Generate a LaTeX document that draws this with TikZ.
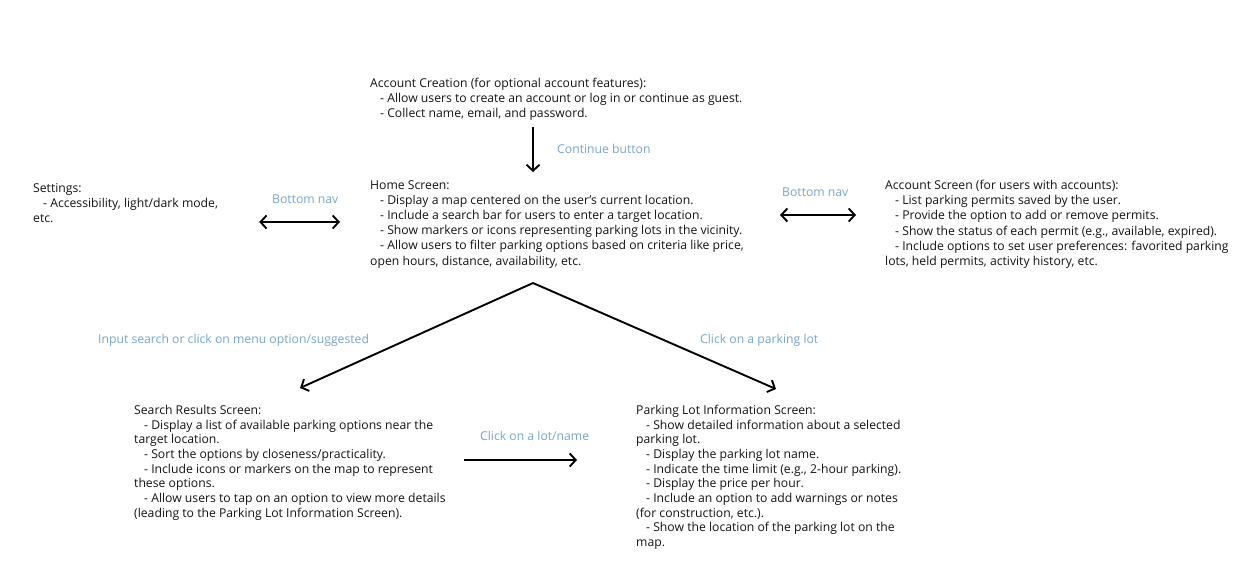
\documentclass[tikz,border=0pt]{standalone}
\usepackage{fontspec}
\setmainfont{Open Sans}
\usetikzlibrary{arrows.meta}
\definecolor{lblblue}{RGB}{122,166,206}
\definecolor{txt}{RGB}{20,20,20}
\newcommand{\ind}{\hspace*{10pt}}
\tikzset{
  body/.style={anchor=north west, inner sep=0pt, align=left, text=txt,
    font=\fontsize{12.2}{15.2}\selectfont},
  tight/.style={font=\fontsize{12.2}{14.65}\selectfont},
  lbl/.style={anchor=base west, inner sep=0pt, text=lblblue,
    font=\fontsize{12.2}{14}\selectfont},
  arr/.style={line width=1.9pt, -{Straight Barb[length=6pt,width=13pt,line width=1.9pt]}},
  darr/.style={line width=1.9pt, {Straight Barb[length=6pt,width=13pt,line width=1.9pt]}-{Straight Barb[length=6pt,width=13pt,line width=1.9pt]}}
}
\begin{document}
\begin{tikzpicture}[x=1pt,y=-1pt]
\useasboundingbox[fill=white] (0,0) rectangle (1238,562);
% nodes
\node[body] (acct) at (370,78) {Account Creation (for optional account features):\\
\ind- Allow users to create an account or log in or continue as guest.\\
\ind- Collect name, email, and password.};
\node[body] (home) at (370,180) {Home Screen:\\
\ind- Display a map centered on the user's current location.\\
\ind- Include a search bar for users to enter a target location.\\
\ind- Show markers or icons representing parking lots in the vicinity.\\
\ind- Allow users to filter parking options based on criteria like price,\\
open hours, distance, availability, etc.};
\node[body] (settings) at (33,183) {Settings:\\
\ind- Accessibility, light/dark mode,\\
etc.};
\node[body] (accscr) at (885,180) {Account Screen (for users with accounts):\\
\ind- List parking permits saved by the user.\\
\ind- Provide the option to add or remove permits.\\
\ind- Show the status of each permit (e.g., available, expired).\\
\ind- Include options to set user preferences: favorited parking\\
lots, held permits, activity history, etc.};
\node[body, tight] (search) at (134,405) {Search Results Screen:\\
\ind- Display a list of available parking options near the\\
target location.\\
\ind- Sort the options by closeness/practicality.\\
\ind- Include icons or markers on the map to represent\\
these options.\\
\ind- Allow users to tap on an option to view more details\\
(leading to the Parking Lot Information Screen).};
\node[body, tight] (info) at (636,405) {Parking Lot Information Screen:\\
\ind- Show detailed information about a selected\\
parking lot.\\
\ind- Display the parking lot name.\\
\ind- Indicate the time limit (e.g., 2-hour parking).\\
\ind- Display the price per hour.\\
\ind- Include an option to add warnings or notes\\
(for construction, etc.).\\
\ind- Show the location of the parking lot on the\\
map.};
% labels
\node[lbl] (lcont) at (557,153) {Continue button};
\node[lbl] (lnavl) at (272,203) {Bottom nav};
\node[lbl] (lnavr) at (782,196) {Bottom nav};
\node[lbl] (lsearch) at (98,343) {Input search or click on menu option/suggested};
\node[lbl] (lpark) at (700,343) {Click on a parking lot};
\node[lbl] (llot) at (480,440) {Click on a lot/name};
% coordinates
\coordinate (split) at (533,283);
\coordinate (navl) at (0,222);
\coordinate (navr) at (0,215);
\coordinate (lotarr) at (0,460);
\coordinate (tipsearch) at (300,388);
\coordinate (tipinfo) at (776,389);
% connectors
\draw[arr, shorten <=6pt, shorten >=8pt] (acct.south -| split) -- (home.north -| split);
\draw[darr] ([xshift=41pt]settings.east |- navl) -- ([xshift=-30pt]home.west |- navl);
\draw[darr] ([xshift=-105pt]accscr.west |- navr) -- ([xshift=-29pt]accscr.west |- navr);
\draw[arr] (split) -- (tipsearch);
\draw[arr] (split) -- (tipinfo);
\draw[arr] ([xshift=-172pt]info.west |- lotarr) -- ([xshift=-59pt]info.west |- lotarr);
\end{tikzpicture}
\end{document}
